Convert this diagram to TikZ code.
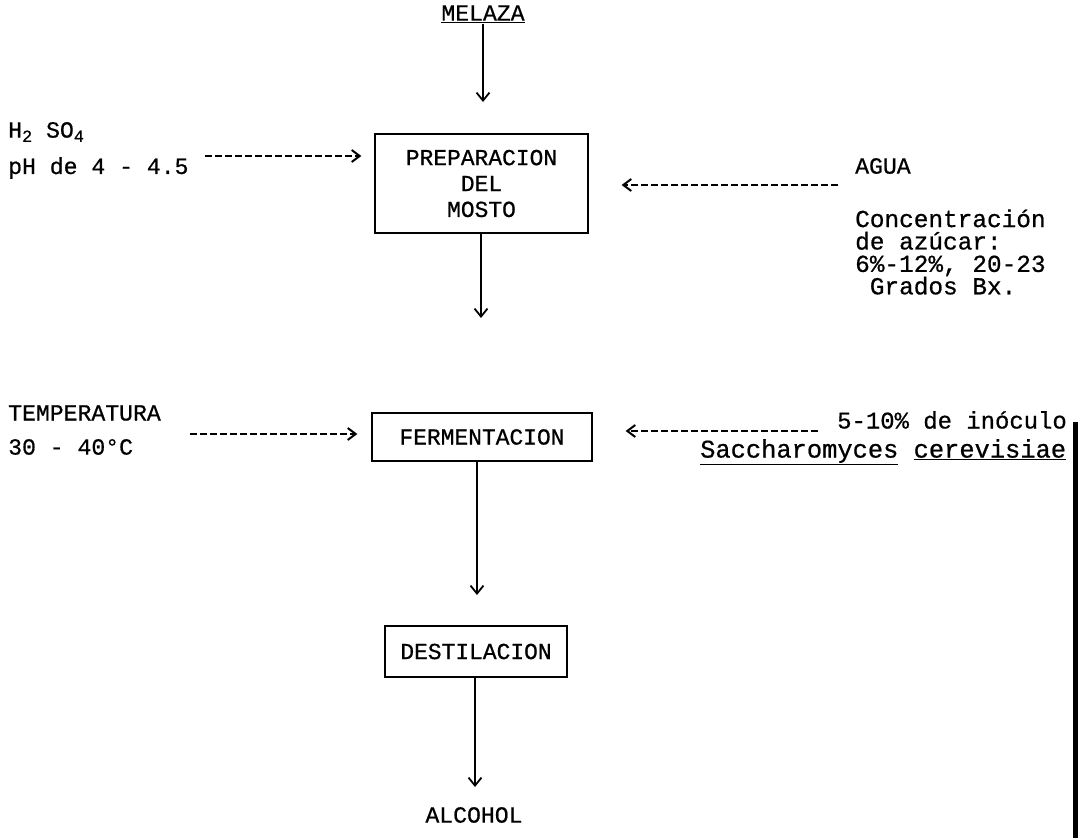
\documentclass[tikz,border=0pt]{standalone}
\usepackage{fontspec}
\setmainfont{Liberation Mono}[FakeBold=0.7]
\usetikzlibrary{arrows.meta}
\newcommand{\lowsub}[1]{\raisebox{-0.35ex}{\fontsize{17}{17}\selectfont #1}}
\begin{document}
\begin{tikzpicture}[x=1bp,y=-1bp,
  txt/.style={inner sep=0pt,font=\fontsize{23.2}{26}\selectfont},
  lbl/.style={txt,anchor=west},
  box/.style={draw,line width=1.3pt,inner sep=0pt,font=\fontsize{23}{26}\selectfont,align=center},
  flow/.style={line width=1.4pt,-{Straight Barb[length=8pt,width=13pt,line width=1.8pt]}},
  feed/.style={line width=1.6pt,dash pattern=on 7bp off 3bp,-{Straight Barb[length=8pt,width=12pt,line width=2pt]}}]
\useasboundingbox (0,0) rectangle (1078,838);
% nodes
\node[txt] (melaza) at (483,14) {\underline{MELAZA}};
\node[box,minimum width=213bp,minimum height=99bp] (prep) at (481.5,183.5) {PREPARACION\\DEL\\MOSTO};
\node[box,minimum width=220bp,minimum height=48bp] (ferm) at (482,437) {FERMENTACION};
\node[box,minimum width=182bp,minimum height=51bp] (dest) at (476,651.5) {DESTILACION};
\node[txt] (alcohol) at (474,815) {ALCOHOL};
% left labels
\node[lbl] (h2so4) at (8,132) {H\lowsub{2} SO\lowsub{4}};
\node[lbl] (ph) at (8,168) {pH de 4 - 4.5};
\node[lbl] (temp) at (8,413) {TEMPERATURA};
\node[lbl] (tc) at (8,447) {30 - 40°C};
% right labels
\node[lbl] (agua) at (855,166) {AGUA};
\node[lbl,align=left,font=\fontsize{24.5}{22.5}\selectfont] (conc) at (855,252) {Concentración\\de azúcar:\\6\%-12\%, 20-23\\\ Grados Bx.};
\node[txt,anchor=east,font=\fontsize{24}{26}\selectfont] (inoc) at (1067,420) {5-10\% de inóculo};
\node[txt,anchor=west,font=\fontsize{25.5}{26}\selectfont] (sacc) at (700,452) {\underline{Saccharomyces} \underline{cerevisiae}};
% free ends
\coordinate (m1) at (483,102);
\coordinate (p1) at (481,318);
\coordinate (f1) at (477,595);
\coordinate (d1) at (475,787);
\coordinate (ls1) at (205,156);
\coordinate (rs1) at (838,185);
\coordinate (ls2) at (190,434);
\coordinate (rs2) at (818,431);
% connectors
\draw[flow] (melaza.south |- 0,24) -- (m1);
\draw[flow] (p1 |- prep.south) -- (p1);
\draw[flow] (f1 |- ferm.south) -- (f1);
\draw[flow] (d1 |- dest.south) -- (d1);
\draw[feed,shorten >=13bp] (ls1) -- (prep.west |- ls1);
\draw[feed,shorten >=33bp] (rs1) -- (prep.east |- rs1);
\draw[feed,shorten >=14bp] (ls2) -- (ferm.west |- ls2);
\draw[feed,shorten >=33bp] (rs2) -- (ferm.east |- rs2);
% scan edge bar
\fill (1073,422) rectangle (1078,838);
\end{tikzpicture}
\end{document}
